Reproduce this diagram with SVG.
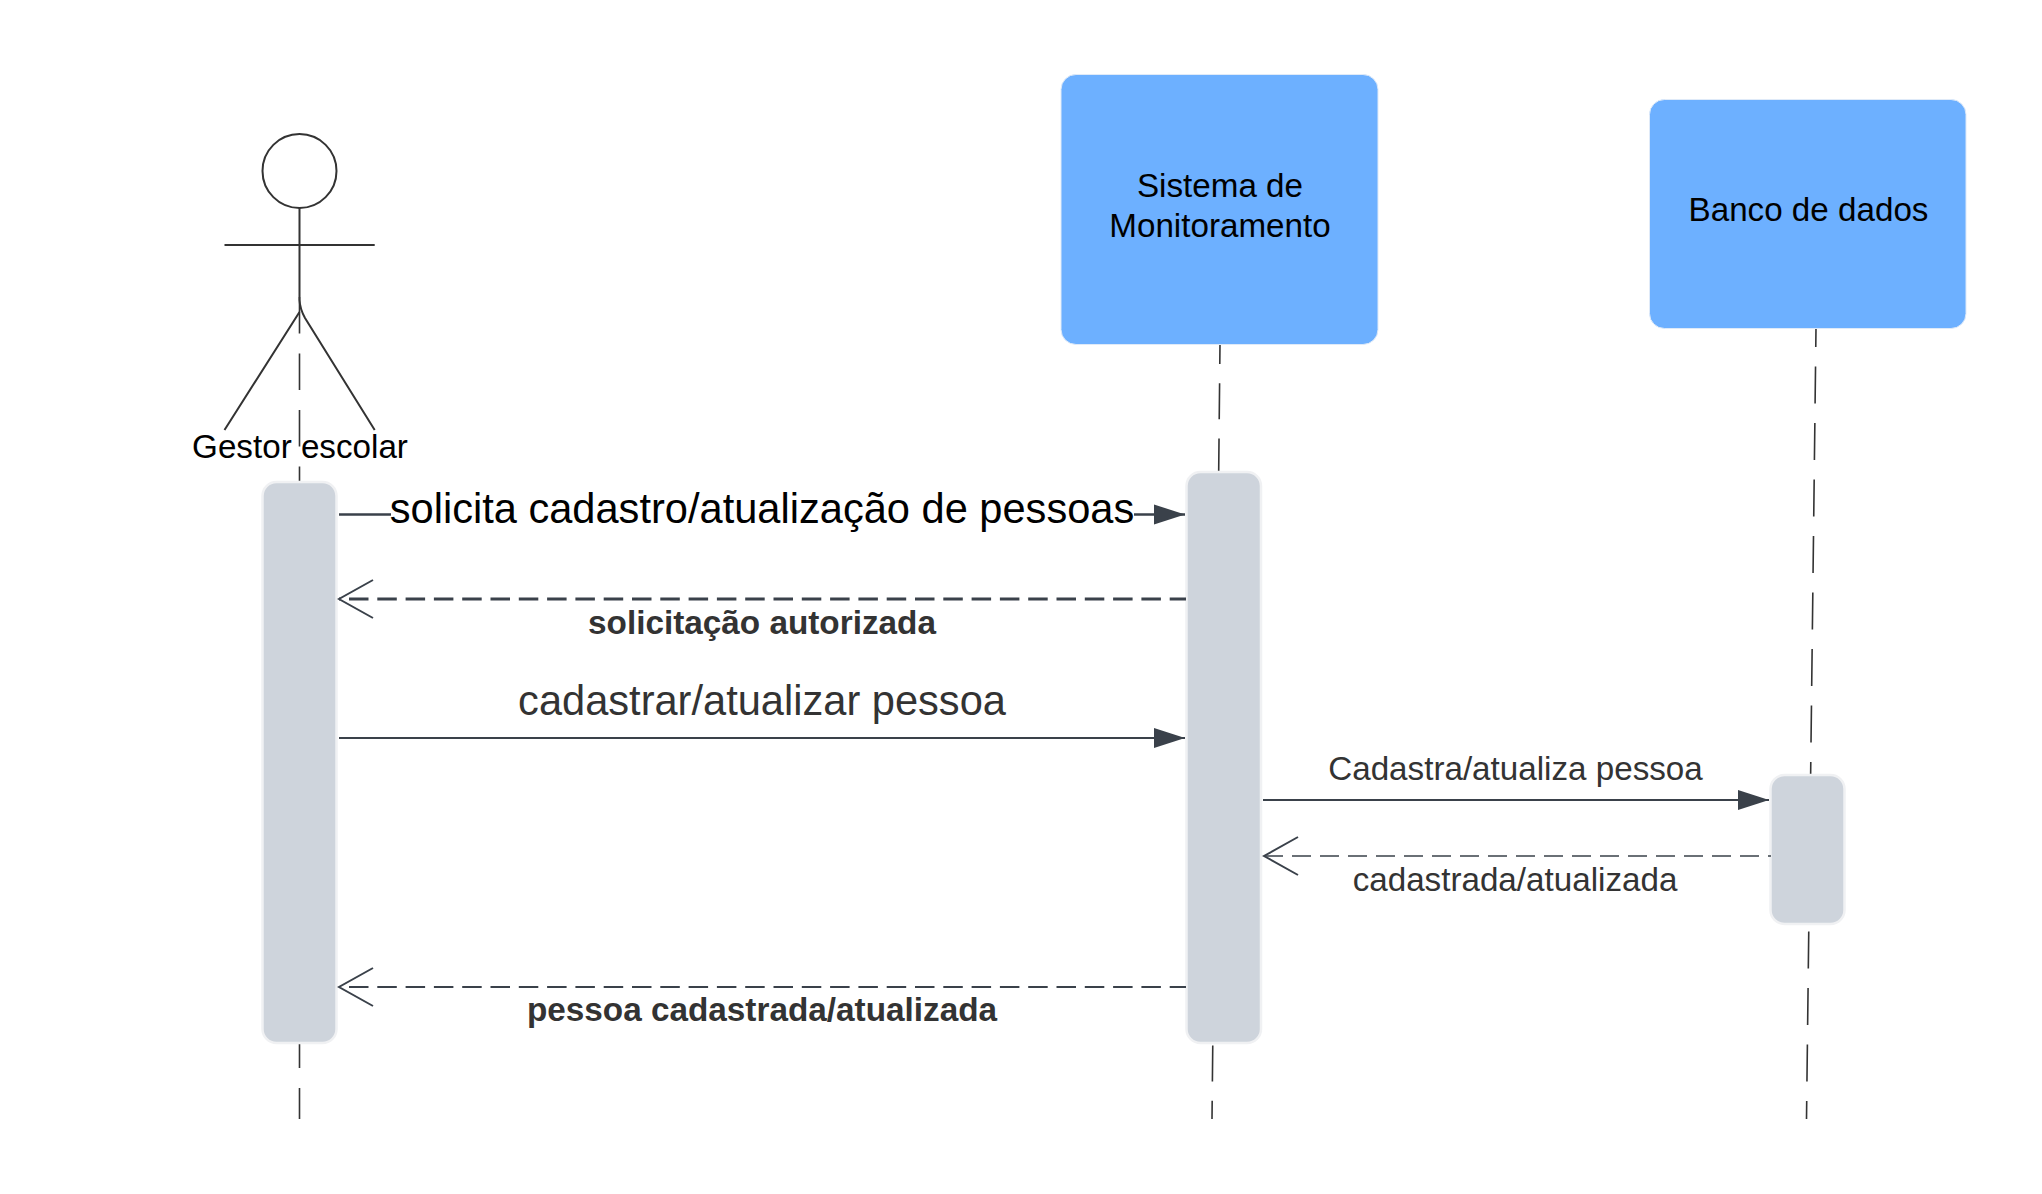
<svg xmlns="http://www.w3.org/2000/svg" width="2042" height="1194" viewBox="0 0 2042 1194">
<style>
text{font-family:"Liberation Sans",Arial,sans-serif;text-anchor:middle}
.lb{font-size:33.2px;fill:#000}
.msg{fill:#333}
.bold{font-weight:700;font-size:33.3px}
.box{fill:#6db0ff;stroke:#dfeaf8;stroke-width:1}
.act{fill:#ced4dc;stroke:#f0f1f3;stroke-width:2.5}
.life{fill:none;stroke:#333;stroke-width:1.6}
.stick{fill:none;stroke:#333;stroke-width:2}
.m{fill:none;stroke:#3a414a}
</style>
<defs>
<marker id="solid" markerUnits="userSpaceOnUse" markerWidth="32" markerHeight="22" refX="31" refY="11" orient="auto"><path d="M0 1L31 11L0 21Z" fill="#3a414a"/></marker>
<marker id="open" markerUnits="userSpaceOnUse" markerWidth="38" markerHeight="44" refX="2" refY="22" orient="auto"><path d="M36 3L2 22L36 41" fill="none" stroke="#3a414a" stroke-width="2"/></marker>
</defs>
<g id="lifelines">
<path class="life" d="M299.5 297V1119" stroke-dasharray="36.5 20"/>
<path class="life" d="M1220 344L1212 1119" stroke-dasharray="36 19.2" stroke-dashoffset="16"/>
<path class="life" d="M1816 328L1806.500 1119" stroke-dasharray="37 19.5" stroke-dashoffset="18"/>
</g>
<g id="actor-gestor">
<circle class="stick" cx="299.5" cy="171" r="37"/>
<path class="stick" d="M224.5 245H374.7M299.5 208V300Q300 309 305 318L374.7 430M299.5 312L224.5 430"/>
<text class="lb" x="300" y="458">Gestor escolar</text>
</g>
<g id="node-sistema">
<rect class="box" x="1061" y="74.500" width="317" height="270" rx="15"/>
<text class="lb" x="1220" y="196.500">Sistema de</text>
<text class="lb" x="1220" y="236.500">Monitoramento</text>
</g>
<g id="node-banco">
<rect class="box" x="1649.500" y="99.500" width="316.500" height="229" rx="15"/>
<text class="lb" x="1808.500" y="220.500">Banco de dados</text>
</g>
<g id="activation-gestor"><rect class="act" x="262.500" y="482" width="74" height="561" rx="14"/></g>
<g id="activation-sistema"><rect class="act" x="1186.500" y="472" width="74.500" height="571" rx="14"/></g>
<g id="activation-banco"><rect class="act" x="1770.500" y="775" width="74" height="149" rx="14"/></g>
<g id="connectors">
<path class="m" stroke-width="2.500" d="M339 514.500H391"/>
<path class="m" stroke-width="2.500" d="M1134 514.500H1185" marker-end="url(#solid)"/>
<path class="m" stroke-width="3" stroke-dasharray="19.500 8.800" stroke-dashoffset="18.300" d="M339 599H1186" marker-start="url(#open)"/>
<path class="m" stroke-width="2.200" d="M339 738H1185" marker-end="url(#solid)"/>
<path class="m" stroke-width="2.200" d="M1263 800H1769" marker-end="url(#solid)"/>
<path class="m" stroke-width="1.500" stroke-dasharray="19 9" d="M1264 856H1771" marker-start="url(#open)"/>
<path class="m" stroke-width="2.200" stroke-dasharray="19.500 8.800" stroke-dashoffset="18.300" d="M339 987H1186" marker-start="url(#open)"/>
</g>
<g id="labels">
<text x="762" y="522.500" font-size="41.600" fill="#000">solicita cadastro/atualização de pessoas</text>
<text class="msg bold" x="762" y="633.500">solicitação autorizada</text>
<text class="msg" x="762" y="714.500" font-size="41.600">cadastrar/atualizar pessoa</text>
<text class="msg" x="1515.500" y="779.500" font-size="33.200">Cadastra/atualiza pessoa</text>
<text class="msg" x="1515" y="891" font-size="33.200">cadastrada/atualizada</text>
<text class="msg bold" x="762" y="1021">pessoa cadastrada/atualizada</text>
</g>
</svg>
